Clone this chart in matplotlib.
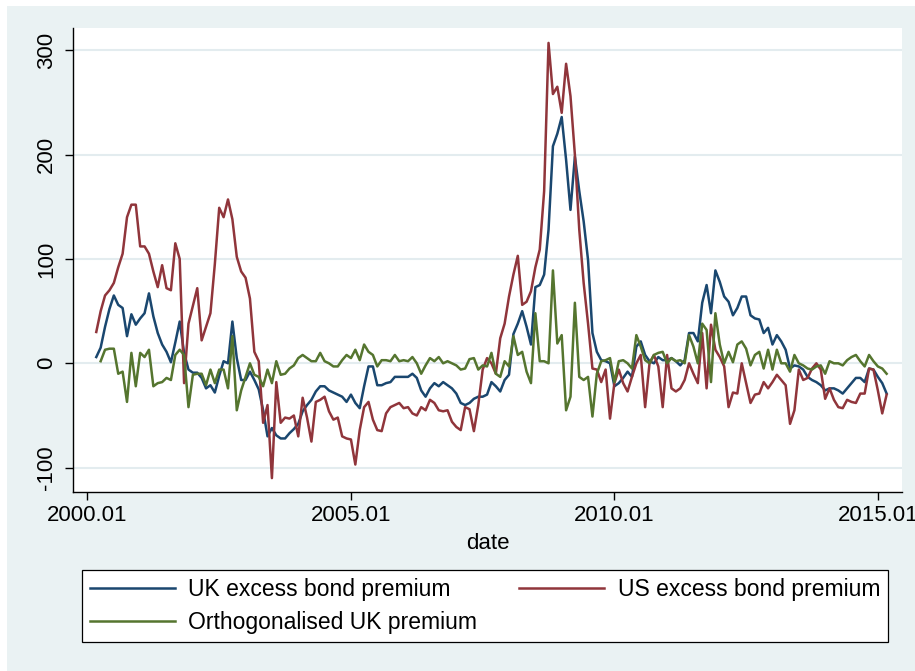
import matplotlib
matplotlib.use("Agg")
import matplotlib.pyplot as plt
from matplotlib.lines import Line2D
from matplotlib.patches import Rectangle
import numpy as np
import pandas as pd

plt.rcParams["font.family"] = ["Liberation Sans", "DejaVu Sans"]

# monthly sample, 2000m3 - 2015m3 (orthogonalised series starts one month later)
months = pd.period_range("2000-03", "2015-03", freq="M")

uk_premium = [
    6, 15, 35, 52, 65, 56, 53, 26, 47, 37,
    43, 48, 67, 45, 29, 18, 11, 1, 20, 40,
    10, -6, -9, -9, -14, -24, -21, -28, -12, 2,
    0, 40, 5, -16, -16, -8, -16, -25, -45, -70,
    -62, -69, -72, -72, -67, -63, -58, -46, -40, -35,
    -27, -22, -22, -26, -28, -30, -32, -37, -30, -38,
    -43, -22, -3, -3, -21, -21, -19, -18, -13, -13,
    -13, -13, -10, -14, -26, -32, -24, -19, -22, -18,
    -21, -24, -29, -38, -40, -38, -34, -32, -32, -30,
    -18, -22, -27, -16, -11, 28, 38, 50, 35, 18,
    73, 75, 85, 128, 208, 220, 236, 195, 147, 198,
    165, 136, 99, 29, 11, 3, 2, 0, -22, -19,
    -14, -8, -13, 16, 21, 8, 2, 0, 6, 3,
    3, 5, 2, -2, 3, 29, 29, 21, 58, 75,
    48, 89, 78, 64, 59, 46, 53, 64, 64, 46,
    43, 42, 29, 34, 18, 27, 21, 13, -5, -2,
    -3, -6, -13, -16, -18, -21, -26, -24, -24, -26,
    -29, -24, -19, -14, -14, -18, -5, -6, -13, -19,
    -29,
]

us_premium = [
    30, 50, 65, 70, 77, 92, 105, 140, 152, 152,
    112, 112, 105, 88, 73, 94, 72, 70, 115, 100,
    -19, 38, 55, 72, 22, 35, 48, 95, 149, 140,
    157, 138, 102, 88, 82, 62, 11, 2, -57, -40,
    -110, -18, -57, -52, -53, -50, -70, -33, -52, -75,
    -37, -35, -32, -46, -54, -52, -70, -72, -73, -97,
    -64, -42, -37, -54, -64, -65, -48, -42, -40, -38,
    -43, -42, -48, -50, -42, -45, -35, -38, -45, -46,
    -45, -56, -61, -64, -42, -44, -65, -40, -6, 5,
    0, -10, 24, 38, 64, 85, 103, 56, 59, 69,
    92, 109, 165, 307, 258, 265, 240, 287, 256, 200,
    128, 77, 38, -5, -6, -18, -6, -53, -19, -6,
    -19, -27, -13, 0, 8, -42, 0, 8, -3, -42,
    8, -24, -27, -24, -16, 0, -10, -19, 29, -24,
    37, 13, 6, -3, -42, -28, -29, 0, -19, -38,
    -30, -29, -18, -24, -18, -11, -16, -21, -58, -45,
    -6, -16, -14, -5, 0, -6, -34, -24, -35, -42,
    -43, -35, -37, -38, -29, -29, -5, -6, -26, -48,
    -30,
]

orth_premium = [
    2, 13, 14, 14, -10, -8, -37, 10, -22, 10,
    6, 13, -22, -19, -18, -14, -16, 8, 13, 8,
    -42, -11, -10, -10, -21, -6, -19, -6, -6, -24,
    26, -45, -26, -13, 0, -11, -13, -22, -6, -19,
    2, -11, -10, -5, -2, 5, 8, 5, 2, 2,
    10, 2, 0, -3, -3, 3, 8, 5, 13, 3,
    18, 11, 8, -3, 3, 3, 2, 8, 2, 3,
    2, 6, 0, -10, -2, 5, 2, 6, 0, 2,
    0, -2, -6, -5, 4, 5, -6, -2, -3, 10,
    -10, -13, 2, -3, 26, 8, 11, -8, -19, 48,
    2, 2, 0, 89, 19, 27, -45, -32, 58, -13,
    -16, -13, -51, -10, 2, 3, 5, -18, 2, 3,
    0, -5, 27, 16, 3, 0, 8, 10, 11, 0,
    5, 2, 3, 0, 27, 16, 0, 38, 32, -18,
    48, 18, 0, 11, 1, 18, 21, 14, -2, 8,
    11, -5, 13, -6, 13, 0, 0, -8, 8, 0,
    -2, -5, -6, -3, -2, -10, 2, 0, 0, -2,
    3, 6, 8, 2, -3, 8, 2, -3, -5, -10,
]

xtick_dates = ["2000-01", "2005-01", "2010-01", "2015-01"]
ytick_values = [-100, 0, 100, 200, 300]

NAVY = "#1A476F"
MAROON = "#90353B"
FOREST = "#55752F"
BG = "#EAF2F3"
GRID = "#E3ECEF"


def month_index(p):
    # months elapsed since 2000m1, the way Stata %tm counts
    return (p.year - 2000) * 12 + (p.month - 1)


x = np.array([month_index(p) for p in months])

fig = plt.figure(figsize=(9.15, 6.71), dpi=100)
fig.patch.set_facecolor("white")
fig.patches.append(
    Rectangle((7 / 915, 0), 1, 665 / 671, transform=fig.transFigure,
              facecolor=BG, edgecolor="none", zorder=-1)
)

ax = fig.add_axes([73 / 915, 1 - 492.3 / 671, 829 / 915, 464 / 671])
ax.set_facecolor("white")

ax.plot(x, uk_premium, color=NAVY, lw=1.8)
ax.plot(x, us_premium, color=MAROON, lw=1.8)
ax.plot(x[1:], orth_premium, color=FOREST, lw=1.8)

ax.set_xlim(-3.3, 185.5)
ax.set_ylim(-123.6, 321)

xt = [month_index(pd.Period(d, freq="M")) for d in xtick_dates]
ax.set_xticks(xt)
ax.set_xticklabels([d.replace("-", ".") for d in xtick_dates])
ax.set_yticks(ytick_values)
ax.set_yticklabels([str(v) for v in ytick_values], rotation=90, va="center")

ax.tick_params(axis="both", direction="out", length=5.8, width=1.0,
               color="black", labelsize=16)
ax.tick_params(axis="x", pad=3.5)
ax.tick_params(axis="y", pad=5.5)

ax.grid(axis="y", color=GRID, lw=1.5)
ax.set_axisbelow(True)
for side in ["top", "right"]:
    ax.spines[side].set_visible(False)
for side in ["left", "bottom"]:
    ax.spines[side].set_color("black")
    ax.spines[side].set_linewidth(1.0)

ax.set_xlabel("date", fontsize=16, labelpad=5)

# Stata fills legend keys row by row; matplotlib fills by column
handles = [
    Line2D([], [], color=NAVY, lw=1.8),
    Line2D([], [], color=FOREST, lw=1.8),
    Line2D([], [], color=MAROON, lw=1.8),
]
labels = ["UK excess bond premium", "Orthogonalised UK premium",
          "US excess bond premium"]
leg = fig.legend(
    handles, labels, ncol=2, loc="center",
    bbox_to_anchor=(485 / 915, 1 - 606 / 671),
    fontsize=16.5, frameon=True, fancybox=False, framealpha=1,
    edgecolor="black", facecolor="white",
    handlelength=3.71, handletextpad=0.57, columnspacing=1.85,
    borderpad=0.36, labelspacing=0.42,
)
leg.get_frame().set_linewidth(0.9)

fig.savefig("out.png", dpi=100)
